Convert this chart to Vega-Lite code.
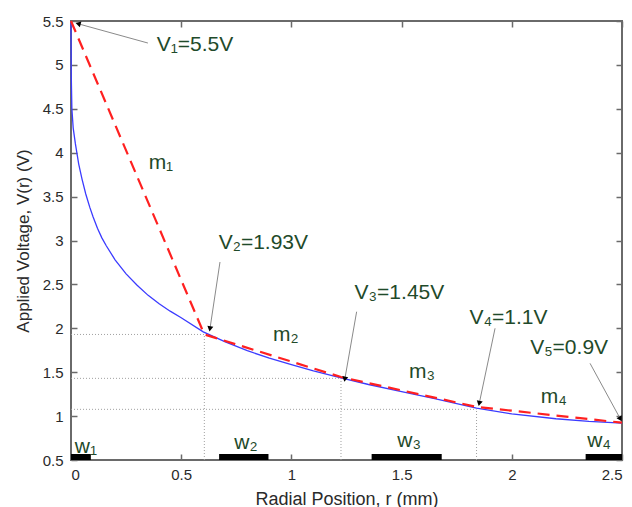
{
  "$schema": "https://vega.github.io/schema/vega-lite/v6.json",
  "autosize": {"type": "none"},
  "padding": {"left": 71, "top": 21, "right": 10, "bottom": 47},
  "width": 551,
  "height": 439,
  "config": {
    "view": {"stroke": "#6a6a6a", "strokeWidth": 2},
    "font": "Liberation Sans",
    "axis": {"labelFont": "Liberation Sans", "titleFont": "Liberation Sans"}
  },
  "datasets": {
    "curve": [
      {"r": 0, "v": 5.5}, {"r": 0.001, "v": 4.9}, {"r": 0.004, "v": 4.5}, {"r": 0.01, "v": 4.28},
      {"r": 0.02, "v": 4.1}, {"r": 0.035, "v": 3.87}, {"r": 0.05, "v": 3.7}, {"r": 0.067, "v": 3.53},
      {"r": 0.085, "v": 3.38}, {"r": 0.1, "v": 3.27}, {"r": 0.12, "v": 3.14}, {"r": 0.14, "v": 3.03},
      {"r": 0.16, "v": 2.94}, {"r": 0.2, "v": 2.78}, {"r": 0.25, "v": 2.62}, {"r": 0.3, "v": 2.49},
      {"r": 0.35, "v": 2.375}, {"r": 0.4, "v": 2.28}, {"r": 0.45, "v": 2.195}, {"r": 0.5, "v": 2.12},
      {"r": 0.6, "v": 1.96}, {"r": 0.7, "v": 1.845}, {"r": 0.8, "v": 1.745}, {"r": 0.9, "v": 1.66},
      {"r": 1.0, "v": 1.585}, {"r": 1.1, "v": 1.515}, {"r": 1.225, "v": 1.435}, {"r": 1.35, "v": 1.36},
      {"r": 1.5, "v": 1.28}, {"r": 1.65, "v": 1.2}, {"r": 1.84, "v": 1.09}, {"r": 2.0, "v": 1.025},
      {"r": 2.2, "v": 0.97}, {"r": 2.35, "v": 0.94}, {"r": 2.5, "v": 0.92}
    ],
    "piecewise": [
      {"r": 0, "v": 5.5}, {"r": 0.605, "v": 1.93}, {"r": 1.225, "v": 1.445}, {"r": 1.84, "v": 1.105}, {"r": 2.5, "v": 0.925}
    ],
    "guides": [
      {"r": 0, "v": 1.93, "r2": 0.605, "v2": 1.93},
      {"r": 0.605, "v": 0.5, "r2": 0.605, "v2": 1.93},
      {"r": 0, "v": 1.43, "r2": 1.225, "v2": 1.43},
      {"r": 1.225, "v": 0.5, "r2": 1.225, "v2": 1.43},
      {"r": 0, "v": 1.077, "r2": 1.84, "v2": 1.077},
      {"r": 1.84, "v": 0.5, "r2": 1.84, "v2": 1.077}
    ],
    "electrodes": [
      {"r": 0, "r2": 0.09}, {"r": 0.672, "r2": 0.896}, {"r": 1.364, "r2": 1.682}, {"r": 2.335, "r2": 2.5}
    ],
    "arrows": [
      {"r": 0.349, "v": 5.249, "r2": 0.036, "v2": 5.466, "angle": 285},
      {"r": 0.676, "v": 2.755, "r2": 0.631, "v2": 2.003, "angle": 189},
      {"r": 1.296, "v": 2.189, "r2": 1.243, "v2": 1.43, "angle": 190},
      {"r": 1.924, "v": 2.0, "r2": 1.853, "v2": 1.153, "angle": 192},
      {"r": 2.355, "v": 1.601, "r2": 2.491, "v2": 0.975, "angle": 151}
    ],
    "labels": [
      {"text": "V₁=5.5V", "r": 0.5626, "v": 5.227},
      {"text": "V₂=1.93V", "r": 0.873, "v": 2.97},
      {"text": "V₃=1.45V", "r": 1.49, "v": 2.4},
      {"text": "V₄=1.1V", "r": 1.985, "v": 2.117},
      {"text": "V₅=0.9V", "r": 2.26, "v": 1.776},
      {"text": "m₁", "r": 0.408, "v": 3.883},
      {"text": "m₂", "r": 0.975, "v": 1.924},
      {"text": "m₃", "r": 1.593, "v": 1.502},
      {"text": "m₄", "r": 2.191, "v": 1.218},
      {"text": "w₁", "r": 0.068, "v": 0.648},
      {"text": "w₂", "r": 0.794, "v": 0.694},
      {"text": "w₃", "r": 1.534, "v": 0.716},
      {"text": "w₄", "r": 2.396, "v": 0.716}
    ]
  },
  "layer": [
    {
      "data": {"name": "guides"},
      "mark": {"type": "rule", "color": "#a0a0a0", "strokeWidth": 1, "strokeDash": [1, 2]},
      "encoding": {
        "x": {"field": "r", "type": "quantitative", "scale": {"domain": [0, 2.5], "nice": false, "zero": false},
          "axis": {"orient": "bottom", "values": [0, 0.5, 1, 1.5, 2, 2.5], "format": "~g", "grid": false, "domain": false,
            "tickSize": -6, "tickColor": "#6a6a6a", "tickWidth": 1.5, "labelPadding": 13, "labelFontSize": 15, "labelColor": "#2a2a2a",
            "title": "Radial Position, r  (mm)", "titleFontSize": 18, "titleFontWeight": "normal", "titleColor": "#2a2a2a", "titlePadding": 8}},
        "y": {"field": "v", "type": "quantitative", "scale": {"domain": [0.5, 5.5], "nice": false, "zero": false},
          "axis": {"orient": "left", "values": [0.5, 1, 1.5, 2, 2.5, 3, 3.5, 4, 4.5, 5, 5.5], "format": "~g", "grid": false, "domain": false,
            "tickSize": -6, "tickColor": "#6a6a6a", "tickWidth": 1.5, "labelPadding": 14, "labelFontSize": 15, "labelColor": "#2a2a2a",
            "title": "Applied Voltage,  V(r)  (V)", "titleFontSize": 17, "titleFontWeight": "normal", "titleColor": "#2a2a2a", "titlePadding": 10}},
        "x2": {"field": "r2"},
        "y2": {"field": "v2"}
      }
    },
    {
      "data": {"name": "curve"},
      "mark": {"type": "line", "color": "#3b3bff", "strokeWidth": 1.3},
      "encoding": {
        "x": {"field": "r", "type": "quantitative",
          "axis": {"orient": "top", "values": [0, 0.5, 1, 1.5, 2, 2.5], "labels": false, "grid": false, "domain": false,
            "tickSize": -6, "tickColor": "#6a6a6a", "tickWidth": 1.5, "title": null}},
        "y": {"field": "v", "type": "quantitative",
          "axis": {"orient": "right", "values": [0.5, 1, 1.5, 2, 2.5, 3, 3.5, 4, 4.5, 5, 5.5], "labels": false, "grid": false, "domain": false,
            "tickSize": -6, "tickColor": "#6a6a6a", "tickWidth": 1.5, "title": null}},
        "order": {"field": "r", "type": "quantitative"}
      }
    },
    {
      "data": {"name": "piecewise"},
      "mark": {"type": "line", "color": "#ff2020", "strokeWidth": 2.2, "strokeDash": [12, 7]},
      "encoding": {
        "x": {"field": "r", "type": "quantitative", "axis": null},
        "y": {"field": "v", "type": "quantitative", "axis": null}
      }
    },
    {
      "data": {"name": "electrodes"},
      "mark": {"type": "rule", "color": "#000000", "strokeWidth": 6, "strokeCap": "butt", "yOffset": -3},
      "encoding": {
        "x": {"field": "r", "type": "quantitative", "axis": null},
        "x2": {"field": "r2"},
        "y": {"datum": 0.5, "type": "quantitative", "axis": null}
      }
    },
    {
      "data": {"name": "arrows"},
      "mark": {"type": "rule", "color": "#8a8a8a", "strokeWidth": 1},
      "encoding": {
        "x": {"field": "r", "type": "quantitative", "axis": null},
        "y": {"field": "v", "type": "quantitative", "axis": null},
        "x2": {"field": "r2"},
        "y2": {"field": "v2"}
      }
    },
    {
      "data": {"name": "arrows"},
      "mark": {"type": "point", "shape": "triangle", "filled": true, "color": "#000000", "size": 36, "opacity": 1},
      "encoding": {
        "x": {"field": "r2", "type": "quantitative", "axis": null},
        "y": {"field": "v2", "type": "quantitative", "axis": null},
        "angle": {"field": "angle", "type": "quantitative", "scale": null}
      }
    },
    {
      "data": {"name": "labels"},
      "mark": {"type": "text", "fontSize": 21, "color": "#1f4a2a", "align": "center", "baseline": "middle", "font": "Liberation Sans"},
      "encoding": {
        "x": {"field": "r", "type": "quantitative", "axis": null},
        "y": {"field": "v", "type": "quantitative", "axis": null},
        "text": {"field": "text"}
      }
    }
  ],
  "resolve": {"axis": {"x": "independent", "y": "independent"}}
}
